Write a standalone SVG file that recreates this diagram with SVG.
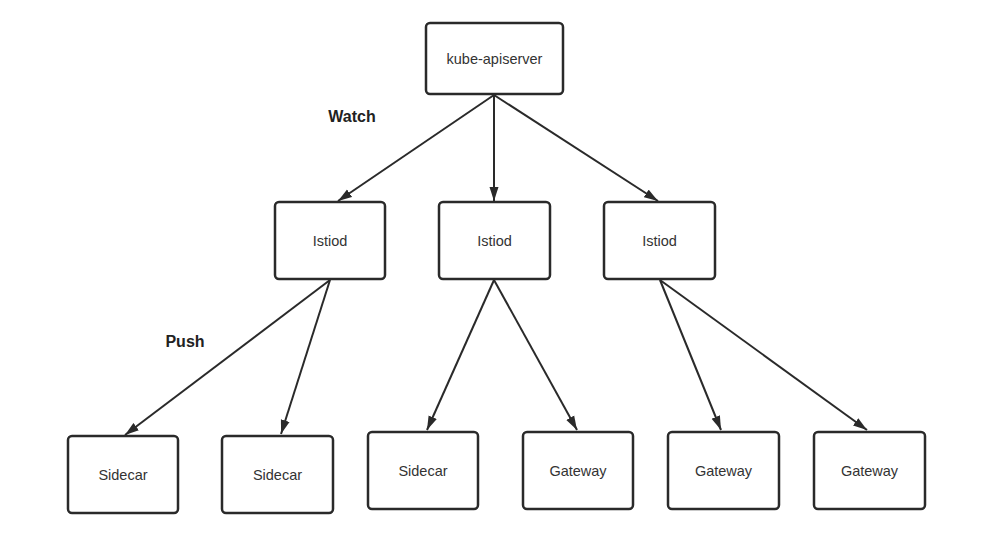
<svg xmlns="http://www.w3.org/2000/svg" width="1000" height="557" viewBox="0 0 1000 557">
<style>
.box{fill:#fff;stroke:#2a2a2a;stroke-width:2.5}
.lbl{font-family:"Liberation Sans",Arial,sans-serif;font-size:14.5px;fill:#333;text-anchor:middle;dominant-baseline:central}
.edge{stroke:#2a2a2a;stroke-width:2;fill:none;marker-end:url(#ah)}
.tag{font-family:"Liberation Sans",Arial,sans-serif;font-size:16px;font-weight:bold;fill:#222;text-anchor:middle;dominant-baseline:central}
</style>
<defs>
<marker id="ah" viewBox="0 0 14 10" refX="14" refY="5" markerWidth="14" markerHeight="10" markerUnits="userSpaceOnUse" orient="auto">
<path d="M0,0.5 L14,5 L0,9.5 Z" fill="#2a2a2a"/>
</marker>
</defs>
<rect width="1000" height="557" fill="#fff"/>
<g id="connectors">
<line class="edge" x1="494" y1="95" x2="338" y2="201"/>
<line class="edge" x1="494" y1="95" x2="494" y2="201"/>
<line class="edge" x1="494" y1="95" x2="658" y2="201"/>
<line class="edge" x1="330" y1="280" x2="125" y2="435"/>
<line class="edge" x1="330" y1="280" x2="281" y2="434"/>
<line class="edge" x1="494" y1="280" x2="427" y2="430"/>
<line class="edge" x1="494" y1="280" x2="577" y2="430"/>
<line class="edge" x1="660" y1="280" x2="721" y2="430"/>
<line class="edge" x1="660" y1="280" x2="867" y2="430"/>
</g>
<text class="tag" x="352" y="116">Watch</text>
<text class="tag" x="185" y="341">Push</text>
<g id="apiserver"><rect class="box" x="426" y="23" width="137" height="71" rx="4"/><text class="lbl" x="494.5" y="58.5">kube-apiserver</text></g>
<g id="istiod1"><rect class="box" x="275" y="202" width="110" height="77" rx="4"/><text class="lbl" x="330" y="240.5">Istiod</text></g>
<g id="istiod2"><rect class="box" x="439" y="202" width="111" height="77" rx="4"/><text class="lbl" x="494.5" y="240.5">Istiod</text></g>
<g id="istiod3"><rect class="box" x="604" y="202" width="111" height="77" rx="4"/><text class="lbl" x="659.5" y="240.5">Istiod</text></g>
<g id="sidecar1"><rect class="box" x="68" y="436" width="110" height="77" rx="4"/><text class="lbl" x="123" y="474.5">Sidecar</text></g>
<g id="sidecar2"><rect class="box" x="222" y="436" width="111" height="77" rx="4"/><text class="lbl" x="277.5" y="474.5">Sidecar</text></g>
<g id="sidecar3"><rect class="box" x="368" y="432" width="110" height="77" rx="4"/><text class="lbl" x="423" y="470.5">Sidecar</text></g>
<g id="gateway1"><rect class="box" x="523" y="432" width="110" height="77" rx="4"/><text class="lbl" x="578" y="470.5">Gateway</text></g>
<g id="gateway2"><rect class="box" x="668" y="432" width="111" height="77" rx="4"/><text class="lbl" x="723.5" y="470.5">Gateway</text></g>
<g id="gateway3"><rect class="box" x="814" y="432" width="111" height="77" rx="4"/><text class="lbl" x="869.5" y="470.5">Gateway</text></g>
</svg>
